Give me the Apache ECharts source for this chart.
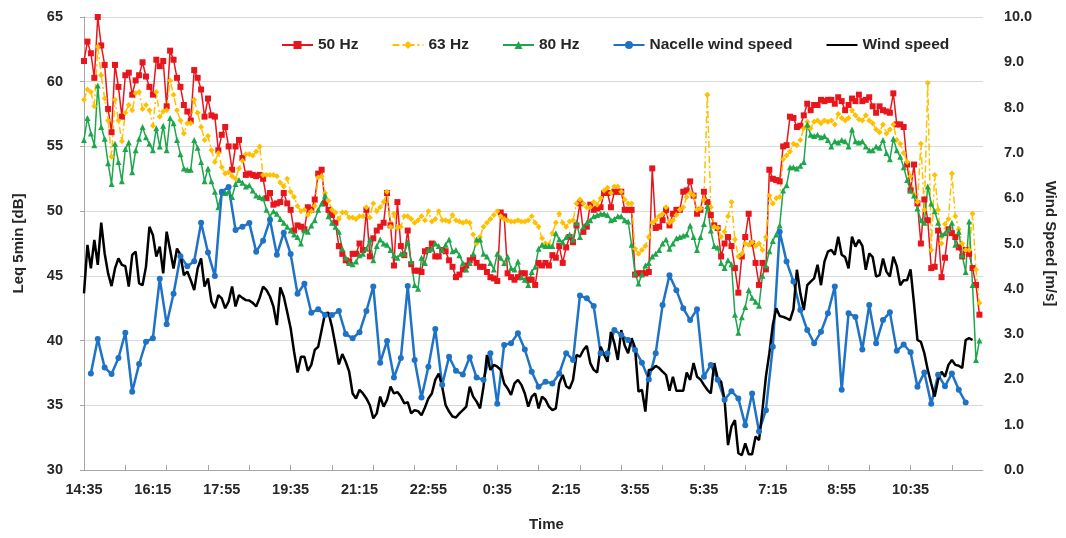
<!DOCTYPE html>
<html><head><meta charset="utf-8">
<script src="https://cdn.jsdelivr.net/npm/echarts@6/dist/echarts.min.js"></script>
<style>html,body{margin:0;padding:0;background:#fff}#chart{width:1066px;height:538px}</style>
</head><body><div id="chart"></div>
<script>
// ---- categories (5-minute intervals) ----
const START_TIME = '14:35';
const STEP_MINUTES = 5;
const N_CATEGORIES = 262;
const xTickLabels = ['14:35','16:15','17:55','19:35','21:15','22:55','0:35','2:15','3:55','5:35','7:15','8:55','10:35'];
const leftAxisTicks = [30, 35, 40, 45, 50, 55, 60, 65];
const rightAxisTicks = [0,1,2,3,4,5,6,7,8,9,10];

// ---- series values ----
const leq50 = [
61.6,63.1,62.2,60.3,65.0,62.8,61.3,57.9,56.1,61.3,59.6,57.3,60.5,60.7,59.0,60.1,60.5,61.5,60.4,59.6,59.0,61.7,61.2,61.6,58.1,62.4,61.7,60.3,59.6,58.2,57.7,57.0,60.9,60.3,59.4,57.3,58.7,57.4,57.3,54.7,55.9,56.5,
55.0,53.2,55.0,55.5,54.1,52.8,52.9,52.8,52.7,52.8,52.5,51.0,51.4,50.5,50.6,50.7,51.4,50.6,50.1,48.5,48.9,48.8,48.6,50.3,50.1,50.9,52.9,53.2,50.6,50.1,49.7,49.1,47.3,46.7,46.2,46.1,46.7,46.7,47.5,47.0,50.1,46.5,47.9,48.5,48.8,
49.1,51.4,48.9,45.8,50.7,47.3,46.6,48.5,45.9,45.4,45.4,45.3,46.9,47.0,47.5,46.5,46.5,47.0,46.9,46.2,45.7,44.9,45.1,45.5,45.8,46.2,46.4,46.0,45.7,45.7,45.3,44.9,44.8,44.6,49.9,49.6,45.2,44.9,44.7,44.9,45.2,45.2,44.7,
44.7,44.3,46.0,45.8,46.0,45.8,46.6,46.4,47.3,46.0,47.2,48.0,47.6,48.9,50.6,48.4,48.8,50.5,50.1,50.2,50.3,51.4,51.4,50.3,51.5,51.5,51.5,50.1,50.1,50.1,45.1,45.2,45.2,45.2,45.3,53.3,48.7,48.8,49.3,50.1,48.9,49.8,50.1,50.1,51.5,
51.6,52.3,51.2,49.8,50.1,51.5,50.7,49.7,48.9,48.7,46.5,47.5,48.0,47.3,45.6,43.7,46.5,48.0,49.8,47.5,46.0,44.3,46.0,45.5,53.2,52.5,52.4,52.3,55.0,55.1,57.3,57.2,56.5,56.6,57.4,58.3,57.8,58.2,58.2,58.6,58.5,58.6,
58.6,58.3,58.8,58.5,57.8,58.2,58.7,58.5,59.0,58.5,58.6,58.8,58.1,57.6,58.1,57.8,57.7,57.6,59.1,56.7,56.7,56.5,53.6,51.6,53.6,50.6,47.5,50.9,49.3,45.6,45.7,48.5,44.9,46.4,48.6,48.3,48.0,47.2,46.5,47.0,46.7,45.6,44.3,42.0
];
const leq63 = [
58.6,59.4,59.2,58.1,62.7,60.5,58.7,57.0,54.2,58.6,57.0,55.4,57.6,58.2,57.8,59.1,59.2,57.9,58.2,57.8,56.6,59.2,57.3,57.7,57.8,60.1,59.0,57.8,57.0,56.0,56.8,56.8,58.6,57.6,56.5,55.5,55.8,54.7,53.8,54.5,53.4,52.9,
53.0,52.7,52.5,53.3,53.9,54.4,54.4,54.3,54.6,55.0,52.8,52.8,52.8,52.8,52.7,52.2,51.9,52.5,51.5,51.1,50.4,50.0,50.1,49.7,50.0,50.4,52.6,52.7,51.4,50.8,50.1,49.9,49.4,49.9,49.9,49.5,49.5,49.4,49.6,49.6,50.3,49.5,50.6,50.0,50.3,
50.7,51.5,48.8,49.8,48.7,48.8,49.6,49.6,49.4,49.1,49.3,49.6,49.3,50.0,49.2,49.4,50.0,49.3,49.3,49.2,49.7,49.3,49.2,49.1,49.2,49.1,48.2,47.5,48.0,48.8,49.1,49.4,49.7,50.0,49.6,49.4,49.3,49.2,49.2,49.3,49.2,49.2,49.3,
49.6,49.1,48.8,47.9,47.5,47.4,48.3,49.1,49.8,49.1,48.8,49.2,49.3,50.6,50.9,50.6,50.3,50.3,50.7,50.5,51.0,51.6,51.8,51.4,51.9,51.9,51.5,50.9,50.6,50.6,47.1,46.7,47.0,47.3,48.0,49.1,49.3,49.6,49.8,50.3,49.1,49.3,49.7,50.1,50.3,
51.1,51.4,51.2,50.1,50.2,50.9,59.0,50.3,48.8,48.7,48.0,48.4,49.6,50.7,47.8,46.5,46.7,47.5,47.4,47.6,47.3,47.5,47.0,48.0,51.2,50.6,51.0,51.1,54.0,54.3,54.6,55.2,55.1,55.5,56.4,56.9,56.4,56.9,57.0,56.8,57.0,56.9,
57.0,56.7,57.5,57.2,57.0,57.2,57.8,57.4,57.1,57.0,57.4,57.0,56.8,56.3,56.1,56.7,56.0,56.3,56.7,55.5,55.2,54.5,53.8,52.7,51.3,50.7,55.2,50.1,59.9,47.0,52.8,50.1,47.5,49.0,49.4,52.9,49.6,48.6,47.5,47.0,47.0,49.8,45.5,42.9
];
const leq80 = [
55.5,57.2,56.0,55.1,59.7,56.5,55.6,53.7,52.1,55.2,53.8,52.3,54.8,55.3,53.0,54.7,55.6,56.5,55.7,55.2,54.7,56.4,55.0,56.6,54.7,57.2,56.8,55.5,54.4,53.3,53.2,53.2,55.5,54.9,53.8,52.3,53.3,52.3,51.5,50.3,51.5,51.4,51.5,51.1,
52.1,52.4,52.2,51.9,52.0,51.6,51.2,51.1,51.0,50.1,49.6,50.0,49.8,49.4,49.1,48.8,48.5,48.2,48.0,47.5,48.5,48.4,48.9,49.3,50.1,50.6,51.2,49.6,49.1,48.8,48.4,47.1,46.4,46.0,45.9,46.1,46.6,46.7,47.1,47.8,46.2,47.3,47.8,
47.5,47.4,47.0,46.6,46.4,46.7,46.7,47.6,46.1,44.3,44.0,46.4,46.0,47.0,47.1,47.5,47.3,47.0,47.4,47.8,46.9,47.0,46.6,46.0,45.5,46.0,46.7,47.8,47.8,46.7,46.5,46.0,45.5,46.7,46.4,46.0,46.5,45.6,45.5,46.1,44.9,44.7,44.3,
45.3,45.7,47.1,47.4,47.3,47.3,47.3,48.3,47.8,47.6,48.0,48.2,47.8,49.1,48.0,48.8,49.1,49.3,49.6,49.7,49.8,49.8,49.7,49.3,49.4,49.6,49.6,49.3,49.2,47.4,45.2,44.4,45.1,45.8,46.0,46.5,46.7,47.0,47.5,47.8,47.1,47.5,47.9,48.0,48.1,
48.2,48.9,48.0,47.0,48.0,49.0,50.4,48.5,47.3,47.2,46.0,45.6,46.2,45.9,42.0,40.6,41.8,42.6,43.9,43.3,43.0,42.7,45.0,45.8,46.9,47.7,48.2,48.9,51.6,52.0,53.4,53.4,53.3,53.5,53.8,56.7,55.9,55.8,55.9,55.7,55.8,55.5,
55.0,55.4,55.3,55.5,55.4,55.0,56.3,55.4,55.3,55.4,55.0,54.7,54.7,55.0,54.9,55.5,54.5,54.0,55.6,54.7,54.2,53.4,52.4,51.6,51.2,50.2,49.3,49.1,51.9,50.6,50.0,49.1,48.2,48.3,48.6,49.1,47.4,48.4,46.6,45.3,49.2,44.3,38.5,40.0
];
// nacelle wind speed: one value every 10 minutes, first at 14:45
const NACELLE_FIRST_INDEX = 2;
const NACELLE_STEP = 2;
const nacelleWind = [
2.13,2.89,2.26,2.12,2.47,3.03,1.73,2.34,2.83,2.91,4.22,3.22,3.89,4.72,4.50,4.61,5.46,4.80,4.28,6.14,6.25,5.30,
5.37,5.45,4.82,5.06,5.52,4.75,5.24,4.77,3.89,4.11,3.47,3.55,3.42,3.42,3.51,3.00,2.91,3.04,3.51,4.05,2.37,
2.85,2.04,2.47,4.06,2.43,1.60,2.28,3.11,1.88,2.50,2.19,2.11,2.49,2.04,1.99,2.58,1.46,2.76,2.80,3.02,2.66,2.17,
1.84,1.95,1.91,2.13,2.58,2.43,3.85,3.79,3.62,2.58,2.58,3.09,2.98,2.87,2.65,2.37,2.00,2.58,3.64,4.30,3.97,3.57,
3.31,3.55,2.06,2.32,1.99,1.55,1.74,1.58,0.99,1.69,0.85,1.32,2.72,5.26,4.60,4.16,3.53,3.09,2.80,3.05,3.46,4.05,
1.77,3.46,3.38,2.66,3.64,2.80,3.31,3.48,2.63,2.77,2.60,1.84,2.15,1.46,2.10,1.85,2.13,1.77,1.49
];
const windSpeed = [
3.90,4.97,4.45,5.08,4.53,5.46,4.78,4.34,4.06,4.45,4.67,4.53,4.50,4.05,4.75,4.82,4.12,4.08,4.49,5.37,5.19,4.71,4.93,4.34,5.26,4.86,4.45,4.89,4.75,4.30,4.38,4.19,3.97,4.45,4.67,4.05,4.23,3.72,3.57,3.86,3.79,3.57,3.72,4.05,
3.61,3.86,3.80,3.75,3.74,3.69,3.61,3.80,4.05,3.97,3.83,3.61,3.20,4.03,3.83,3.49,3.13,2.61,2.15,2.50,2.50,2.19,2.32,2.65,2.72,3.09,3.46,3.47,3.16,2.76,2.33,2.56,2.39,2.17,1.69,1.58,1.77,1.69,1.58,1.43,1.14,1.25,1.62,1.40,
1.55,1.84,1.69,1.72,1.62,1.47,1.50,1.25,1.32,1.30,1.21,1.38,1.58,1.69,1.99,2.13,1.84,1.43,1.29,1.18,1.16,1.25,1.32,1.40,1.84,1.62,1.51,1.36,1.84,2.54,2.21,2.32,2.28,2.21,1.91,1.80,1.66,1.91,1.99,1.88,1.69,1.40,1.62,
1.69,1.36,1.62,1.55,1.40,1.32,1.36,1.91,2.10,1.85,1.80,1.99,2.54,2.50,2.65,2.74,2.36,2.21,2.15,2.72,2.55,2.39,3.05,2.80,2.43,3.09,2.75,2.58,2.91,2.70,1.73,1.77,1.29,2.21,2.22,2.30,2.25,2.17,2.10,1.75,2.06,1.75,1.75,1.75,
2.15,1.99,2.36,2.06,2.00,1.88,1.77,1.69,2.36,2.02,1.95,1.55,0.55,0.96,1.10,0.37,0.33,0.59,0.35,0.35,0.74,0.66,1.32,2.06,2.58,3.20,3.57,3.40,3.38,3.35,3.31,3.55,4.42,3.90,3.53,4.08,4.16,4.23,4.53,4.08,4.60,4.82,4.86,4.75,
5.15,4.75,4.70,4.45,5.15,4.93,5.08,4.95,4.42,4.78,4.70,4.27,4.30,4.67,4.38,4.27,4.71,4.50,4.08,4.19,4.19,4.43,3.68,2.87,2.83,2.58,2.21,1.91,1.62,1.99,2.17,2.06,2.32,2.43,2.32,2.30,2.25,2.87,2.91,2.87
];

// ---- build categories and sparse nacelle series ----
const categories = [];
{
  const [h0, m0] = START_TIME.split(':').map(Number);
  let t = h0 * 60 + m0;
  for (let i = 0; i < N_CATEGORIES; i++) {
    const tt = t % 1440;
    categories.push(Math.floor(tt / 60) + ':' + String(tt % 60).padStart(2, '0'));
    t += STEP_MINUTES;
  }
}
const nacelleSeries = new Array(N_CATEGORIES).fill(null);
nacelleWind.forEach((v, k) => { nacelleSeries[NACELLE_FIRST_INDEX + k * NACELLE_STEP] = v; });

const FONT = 'Liberation Sans, Arial, sans-serif';
const txt = { fontFamily: FONT, fontWeight: 'bold', fontSize: 14.5, color: '#262626' };
const TICK_EVERY = 12;

const chart = echarts.init(document.getElementById('chart'), null, { renderer: 'canvas' });
chart.setOption({
  animation: false,
  backgroundColor: '#fff',
  grid: { left: 84, right: 81.5, top: 17, bottom: 68, containLabel: false },
  legend: {
    left: 276, top: 32, itemWidth: 31, itemHeight: 10, itemGap: 33,
    textStyle: Object.assign({}, txt, { fontSize: 15.5 }),
    data: ['50 Hz', '63 Hz', '80 Hz', 'Nacelle wind speed',
      { name: 'Wind speed', itemStyle: { opacity: 0 } }]
  },
  xAxis: {
    type: 'category', data: categories, boundaryGap: false,
    name: 'Time', nameLocation: 'middle', nameGap: 47,
    nameTextStyle: Object.assign({}, txt, { fontSize: 15, padding: [0, 0, 0, 26] }),
    axisLine: { show: true, lineStyle: { color: '#a6a6a6', width: 1 } },
    axisTick: { show: true, inside: true, length: 5, interval: (i) => i % TICK_EVERY === 0, lineStyle: { color: '#a6a6a6' } },
    axisLabel: Object.assign({}, txt, { interval: (i, v) => xTickLabels.includes(v) && i < 250, margin: 12 }),
    splitLine: { show: false }
  },
  yAxis: [
    {
      type: 'value', min: leftAxisTicks[0], max: leftAxisTicks[leftAxisTicks.length - 1], interval: 5,
      name: 'Leq 5min [dB]', nameLocation: 'middle', nameGap: 58,
      nameTextStyle: Object.assign({}, txt, { fontSize: 15 }),
      axisLine: { show: true, lineStyle: { color: '#a6a6a6' } },
      axisTick: { show: true, length: 4, lineStyle: { color: '#a6a6a6' } },
      axisLabel: Object.assign({}, txt, { margin: 21 }),
      splitLine: { show: true, lineStyle: { color: '#d9d9d9', width: 1 } }
    },
    {
      type: 'value', min: rightAxisTicks[0], max: rightAxisTicks[rightAxisTicks.length - 1], interval: 1,
      name: 'Wind Speed [m/s]', nameLocation: 'middle', nameGap: 58, nameRotate: -90,
      nameTextStyle: Object.assign({}, txt, { fontSize: 15 }),
      axisLine: { show: false }, axisTick: { show: false },
      axisLabel: Object.assign({}, txt, { margin: 21, formatter: (v) => v.toFixed(1) }),
      splitLine: { show: false }
    }
  ],
  series: [
    { name: '50 Hz', type: 'line', yAxisIndex: 0, data: leq50, symbol: 'rect', symbolSize: 6, showAllSymbol: true,
      itemStyle: { color: '#e8161c' }, lineStyle: { color: '#e8161c', width: 1.5 } },
    { name: '63 Hz', type: 'line', yAxisIndex: 0, data: leq63, symbol: 'diamond', symbolSize: 6, showAllSymbol: true,
      itemStyle: { color: '#ffc000' }, lineStyle: { color: '#ffc000', width: 1.5, type: [7, 3, 2, 3] } },
    { name: '80 Hz', type: 'line', yAxisIndex: 0, data: leq80, symbol: 'triangle', symbolSize: 6, showAllSymbol: true,
      itemStyle: { color: '#1ea64b' }, lineStyle: { color: '#1ea64b', width: 1.5 } },
    { name: 'Nacelle wind speed', type: 'line', yAxisIndex: 1, data: nacelleSeries, connectNulls: true,
      symbol: 'circle', symbolSize: 6, showAllSymbol: true,
      itemStyle: { color: '#1f73c6' }, lineStyle: { color: '#1f73c6', width: 2.5 } },
    { name: 'Wind speed', type: 'line', yAxisIndex: 1, data: windSpeed, symbol: 'none',
      itemStyle: { color: '#000' }, lineStyle: { color: '#000', width: 2.5 } }
  ]
});
</script>
</body></html>
